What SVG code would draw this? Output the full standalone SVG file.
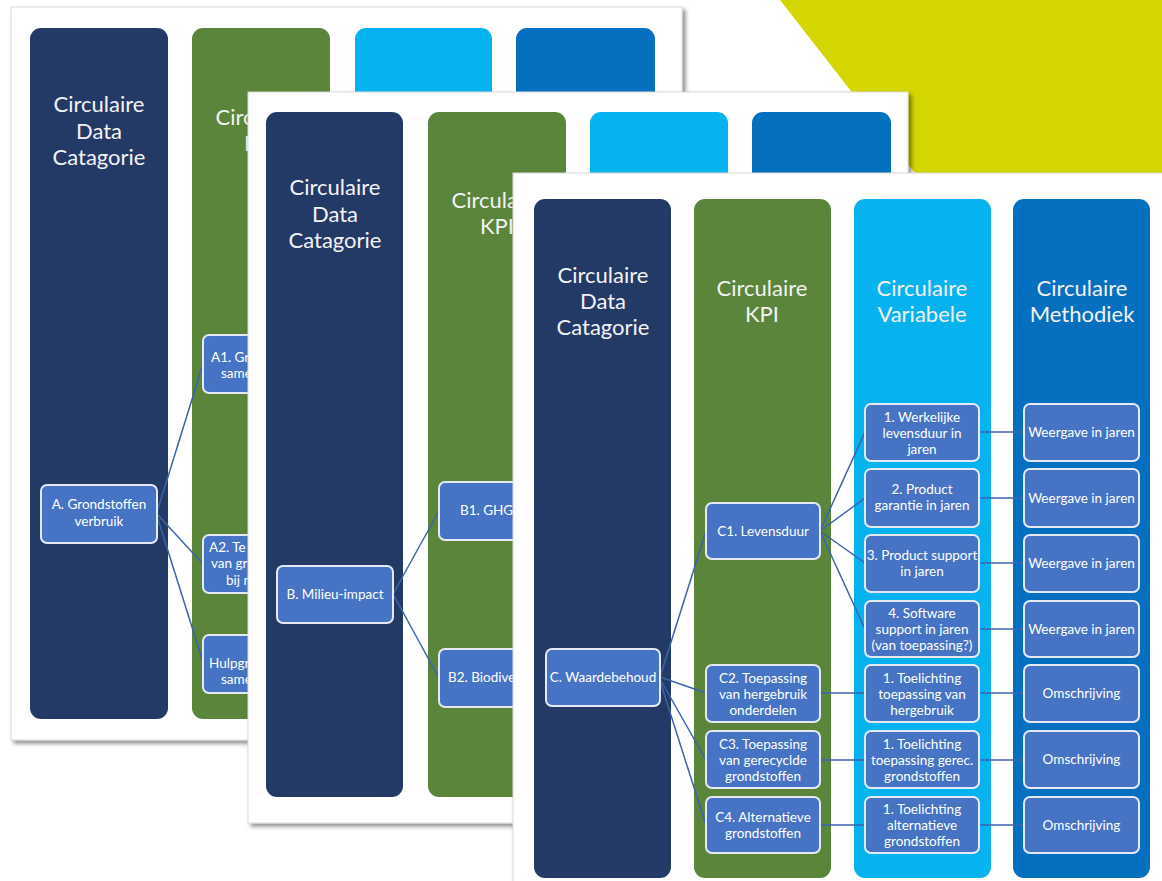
<svg xmlns="http://www.w3.org/2000/svg" width="1162" height="881" viewBox="0 0 1162 881">
<defs>
<filter id="sh" x="-5%" y="-5%" width="112%" height="112%">
<feDropShadow dx="3" dy="3" stdDeviation="2" flood-color="#000" flood-opacity="0.45"/>
</filter>
<style>
.slide{fill:#fff;stroke:#d9d9d9;stroke-width:1;filter:url(#sh)}
.c1{fill:#243a66}
.c2{fill:#5a853a}
.c3{fill:#07b3ef}
.c4{fill:#0670c0}
.hd{font-family:Lato,"Liberation Sans",sans-serif;font-size:22px;fill:#f2f2f2;text-anchor:middle}
.node rect{fill:#4673c4;stroke:#e4e9f4;stroke-width:2}
.node text{font-family:Lato,"Liberation Sans",sans-serif;font-size:13.5px;fill:#fff;text-anchor:middle}
.node text.st{text-anchor:start}
.conn line{stroke:#3b63ac;stroke-width:1.5}
</style>
</defs>
<rect width="1162" height="881" fill="#fff"/>
<polygon points="780,0 1162,0 1162,490" fill="#d4d600"/>

<!-- Slide 1 -->
<g id="slide1">
<rect class="slide" x="11" y="7" width="671" height="733"/>
<rect class="c1" x="30" y="28" width="138" height="691" rx="11"/>
<rect class="c2" x="192" y="28" width="138" height="691" rx="11"/>
<rect class="c3" x="355" y="28" width="137" height="691" rx="11"/>
<rect class="c4" x="516" y="28" width="139" height="691" rx="11"/>
<text class="hd" x="99" y="112">Circulaire</text>
<text class="hd" x="99" y="139">Data</text>
<text class="hd" x="99" y="165">Catagorie</text>
<text class="hd" x="261" y="125">Circulaire</text>
<text class="hd" x="261" y="151">KPI</text>
<g id="connectors-slide1" class="conn">
<line x1="157" y1="512" x2="203" y2="364"/>
<line x1="157" y1="514" x2="203" y2="564"/>
<line x1="157" y1="516" x2="203" y2="662"/>
</g>
<g id="nodeA" class="node"><rect x="41" y="485" width="116" height="58" rx="6"/><text x="99" y="509">A. Grondstoffen</text><text x="99" y="526">verbruik</text></g>
<g id="nodeA1" class="node"><rect x="203" y="335" width="116" height="58" rx="6"/><text class="st" x="211" y="362">A1. Gr</text><text class="st" x="221" y="378">same</text></g>
<g id="nodeA2" class="node"><rect x="203" y="535" width="116" height="58" rx="6"/><text class="st" x="209" y="552">A2. Te</text><text class="st" x="211" y="568">van gr</text><text class="st" x="226" y="585">bij n</text></g>
<g id="nodeA3" class="node"><rect x="203" y="635" width="116" height="58" rx="6"/><text class="st" x="209" y="668">Hulpgr</text><text class="st" x="221" y="684">same</text></g>
</g>

<!-- Slide 2 -->
<g id="slide2">
<rect class="slide" x="248" y="92" width="660" height="731"/>
<rect class="c1" x="266" y="112" width="137" height="685" rx="11"/>
<rect class="c2" x="428" y="112" width="138" height="685" rx="11"/>
<rect class="c3" x="590" y="112" width="138" height="685" rx="11"/>
<rect class="c4" x="752" y="112" width="139" height="685" rx="11"/>
<text class="hd" x="335" y="195">Circulaire</text>
<text class="hd" x="335" y="222">Data</text>
<text class="hd" x="335" y="248">Catagorie</text>
<text class="hd" x="497" y="208">Circulaire</text>
<text class="hd" x="497" y="234">KPI</text>
<g id="connectors-slide2" class="conn">
<line x1="393" y1="594" x2="439" y2="511"/>
<line x1="393" y1="594" x2="439" y2="678"/>
</g>
<g id="nodeB" class="node"><rect x="277" y="566" width="116" height="57" rx="6"/><text x="335" y="599">B. Milieu-impact</text></g>
<g id="nodeB1" class="node"><rect x="439" y="482" width="116" height="58" rx="6"/><text class="st" x="460" y="515">B1. GHG</text></g>
<g id="nodeB2" class="node"><rect x="439" y="649" width="116" height="58" rx="6"/><text class="st" x="448" y="682">B2. Biodiversiteit</text></g>
</g>

<!-- Slide 3 -->
<g id="slide3">
<rect class="slide" x="513" y="173" width="670" height="730"/>
<rect class="c1" x="534" y="199" width="137" height="679" rx="11"/>
<rect class="c2" x="694" y="199" width="137" height="679" rx="11"/>
<rect class="c3" x="854" y="199" width="137" height="679" rx="11"/>
<rect class="c4" x="1013" y="199" width="137" height="679" rx="11"/>
<text class="hd" x="603" y="283">Circulaire</text>
<text class="hd" x="603" y="309">Data</text>
<text class="hd" x="603" y="335">Catagorie</text>
<text class="hd" x="762" y="296">Circulaire</text>
<text class="hd" x="762" y="322">KPI</text>
<text class="hd" x="922" y="296">Circulaire</text>
<text class="hd" x="922" y="322">Variabele</text>
<text class="hd" x="1082" y="296">Circulaire</text>
<text class="hd" x="1082" y="322">Methodiek</text>
<g id="connectors-slide3" class="conn">
<line x1="660" y1="677" x2="706" y2="531"/>
<line x1="660" y1="677" x2="706" y2="693"/>
<line x1="660" y1="679" x2="706" y2="760"/>
<line x1="660" y1="681" x2="706" y2="825"/>
<line x1="820" y1="531" x2="865" y2="432"/>
<line x1="820" y1="531" x2="865" y2="498"/>
<line x1="820" y1="531" x2="865" y2="563"/>
<line x1="820" y1="531" x2="865" y2="629"/>
<line x1="820" y1="693" x2="865" y2="693"/>
<line x1="820" y1="760" x2="865" y2="760"/>
<line x1="820" y1="825" x2="865" y2="825"/>
<line x1="979" y1="432" x2="1024" y2="432"/>
<line x1="979" y1="498" x2="1024" y2="498"/>
<line x1="979" y1="563" x2="1024" y2="563"/>
<line x1="979" y1="629" x2="1024" y2="629"/>
<line x1="979" y1="693" x2="1024" y2="693"/>
<line x1="979" y1="760" x2="1024" y2="760"/>
<line x1="979" y1="825" x2="1024" y2="825"/>
</g>
<g id="nodeC" class="node"><rect x="546" y="649" width="114" height="57" rx="6"/><text x="603" y="682">C. Waardebehoud</text></g>
<g id="nodeC1" class="node"><rect x="706" y="503" width="114" height="56" rx="6"/><text x="763" y="536">C1. Levensduur</text></g>
<g id="nodeC2" class="node"><rect x="706" y="665" width="114" height="57" rx="6"/><text x="763" y="683">C2. Toepassing</text><text x="763" y="699">van hergebruik</text><text x="763" y="715">onderdelen</text></g>
<g id="nodeC3" class="node"><rect x="706" y="731" width="114" height="57" rx="6"/><text x="763" y="749">C3. Toepassing</text><text x="763" y="765">van gerecyclde</text><text x="763" y="781">grondstoffen</text></g>
<g id="nodeC4" class="node"><rect x="706" y="797" width="114" height="56" rx="6"/><text x="763" y="822">C4. Alternatieve</text><text x="763" y="838">grondstoffen</text></g>
<g id="nodeV1" class="node"><rect x="865" y="404" width="114" height="57" rx="6"/><text x="922" y="422">1. Werkelijke</text><text x="922" y="438">levensduur in</text><text x="922" y="454">jaren</text></g>
<g id="nodeV2" class="node"><rect x="865" y="469" width="114" height="58" rx="6"/><text x="922" y="494">2. Product</text><text x="922" y="510">garantie in jaren</text></g>
<g id="nodeV3" class="node"><rect x="865" y="535" width="114" height="57" rx="6"/><text x="922" y="560">3. Product support</text><text x="922" y="576">in jaren</text></g>
<g id="nodeV4" class="node"><rect x="865" y="601" width="114" height="56" rx="6"/><text x="922" y="618">4. Software</text><text x="922" y="634">support in jaren</text><text x="922" y="650">(van toepassing?)</text></g>
<g id="nodeV5" class="node"><rect x="865" y="665" width="114" height="57" rx="6"/><text x="922" y="683">1. Toelichting</text><text x="922" y="699">toepassing van</text><text x="922" y="715">hergebruik</text></g>
<g id="nodeV6" class="node"><rect x="865" y="731" width="114" height="57" rx="6"/><text x="922" y="749">1. Toelichting</text><text x="922" y="765">toepassing gerec.</text><text x="922" y="781">grondstoffen</text></g>
<g id="nodeV7" class="node"><rect x="865" y="797" width="114" height="56" rx="6"/><text x="922" y="814">1. Toelichting</text><text x="922" y="830">alternatieve</text><text x="922" y="846">grondstoffen</text></g>
<g id="nodeM1" class="node"><rect x="1024" y="404" width="115" height="57" rx="6"/><text x="1081.5" y="437">Weergave in jaren</text></g>
<g id="nodeM2" class="node"><rect x="1024" y="469" width="115" height="58" rx="6"/><text x="1081.5" y="503">Weergave in jaren</text></g>
<g id="nodeM3" class="node"><rect x="1024" y="535" width="115" height="57" rx="6"/><text x="1081.5" y="568">Weergave in jaren</text></g>
<g id="nodeM4" class="node"><rect x="1024" y="601" width="115" height="56" rx="6"/><text x="1081.5" y="634">Weergave in jaren</text></g>
<g id="nodeM5" class="node"><rect x="1024" y="665" width="115" height="57" rx="6"/><text x="1081.5" y="698">Omschrijving</text></g>
<g id="nodeM6" class="node"><rect x="1024" y="731" width="115" height="57" rx="6"/><text x="1081.5" y="764">Omschrijving</text></g>
<g id="nodeM7" class="node"><rect x="1024" y="797" width="115" height="56" rx="6"/><text x="1081.5" y="830">Omschrijving</text></g>
</g>
</svg>
